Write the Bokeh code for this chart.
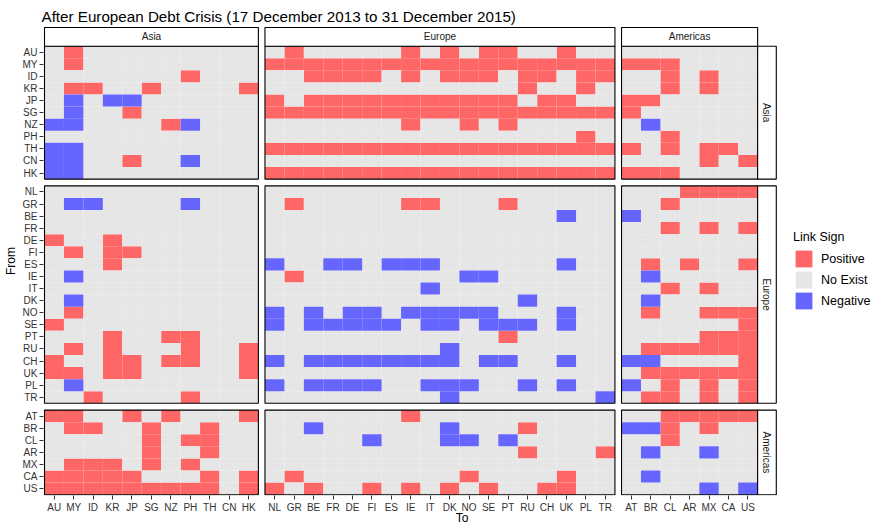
import math
from bokeh.plotting import figure
from bokeh.models import Range1d, FixedTicker, Legend, LegendItem, ColumnDataSource
from bokeh.embed import file_html
from bokeh.resources import INLINE
from bokeh.core.properties import value

# ---------------- data ----------------
title_text = "After European Debt Crisis (17 December 2013 to 31 December 2015)"
regions = ["Asia", "Europe", "Americas"]
asia = ["AU", "MY", "ID", "KR", "JP", "SG", "NZ", "PH", "TH", "CN", "HK"]
europe = ["NL", "GR", "BE", "FR", "DE", "FI", "ES", "IE", "IT", "DK", "NO", "SE",
          "PT", "RU", "CH", "UK", "PL", "TR"]
americas = ["AT", "BR", "CL", "AR", "MX", "CA", "US"]

# link sign from each "From" country to each "To" country
# P = Positive, N = Negative, . = No Exist ; parts: (to Asia, to Europe, to Americas)
from_asia = [
    (".P.........", ".P.....P.P.PP..P..", "......."),  # AU
    (".P.........", "PPPPPPPPPPPPPPPPPP", "PPP...."),  # MY
    (".......P...", "..PPPP.P.PPP.PP.PP", "..P.P.."),  # ID
    (".PP..P....P", ".............P..P.", "..P.P.."),  # KR
    (".N.NN......", "P.PPPPPPPPPPP.PP..", "PP....."),  # JP
    (".N..P......", "PPPPPPPPPPPPPPPPPP", "P......"),  # SG
    ("NN....PN...", ".......P..P.P.....", ".N....."),  # NZ
    ("...........", "................P.", "..P...."),  # PH
    ("NN.........", "PPPPPPPPPPPPPPPPPP", "P.P.PP."),  # TH
    ("NN..P..N...", "..................", "....P.P"),  # CN
    ("NN.........", "PPPPPPPPPPPPPPPPPP", "PPP...."),  # HK
]
from_europe = [
    ("...........", "..................", "...PPPP"),  # NL
    (".NN....N...", ".P.....PP...P.....", "..P...."),  # GR
    ("...........", "...............N..", "N......"),  # BE
    ("...........", "..................", "..P.P.P"),  # FR
    ("P..P.......", "..................", "......."),  # DE
    (".P.PP......", "..................", "......."),  # FI
    ("...P.......", "N..NN.NNN......N..", ".P.P..P"),  # ES
    (".N.........", ".P........NN......", ".N....."),  # IE
    ("...........", "........N.........", "..P.P.."),  # IT
    (".N.........", ".............N....", ".N....."),  # DK
    (".P.........", "N.N.NN.NNNNN...N..", ".P..PPP"),  # NO
    ("P..........", "N.NNNNN.NN.NNN.N..", "......P"),  # SE
    ("...P..PP...", "............P.....", "....PPP"),  # PT
    (".P.P...P..P", ".........N........", ".PPPPPP"),  # RU
    ("P..PP.PP..P", "N.NNNNNNNN.NN..N..", "NN....P"),  # CH
    ("PP.PP.....P", "..................", ".PPPPPP"),  # UK
    (".N.........", "N.NNNN..NNN..N.N..", "N.P.P.P"),  # PL
    ("..P....P...", ".........N.......N", ".PP.P.P"),  # TR
]
from_americas = [
    ("PP..P.P...P", ".......P..........", "..PPPPP"),  # AT
    (".PP..P..P..", "..N......N...P....", "NNP.P.."),  # BR
    (".....P.PP..", ".....N...NN.N.....", "..P...."),  # CL
    (".....P..P..", ".............P...P", ".N..N.."),  # AR
    (".PPP.P.P...", "..................", "......."),  # MX
    ("PPPPP...P.P", ".P........P....P..", ".N....."),  # CA
    ("PPPPPPPPP.P", "P.P..P.P.P.P..PP..", "....N.N"),  # US
]
sign_codes = ["P", ".", "N"]
sign_labels = ["Positive", "No Exist", "Negative"]
sign_colors = ["#FF6666", "#E6E6E6", "#6666FF"]

# ---------------- layout (pixels) ----------------
CW, RH = 19.49, 12.08      # cell width / height
GX, GY = 6.6, 6.8          # gaps between panels
STRIP = 18.7               # strip thickness
FW, FH = 839, 469          # frame size (frame also hosts the legend)
FONT = "Liberation Sans"

countries = dict(zip(regions, [asia, europe, americas]))
from_rows = dict(zip(regions, [from_asia, from_europe, from_americas]))

gx, gy = GX / CW, GY / RH
sx, sy = STRIP / CW, STRIP / RH
xoff, yoff = {}, {}
cx, cy = 0.0, sy
for r in regions:
    xoff[r] = cx
    yoff[r] = cy
    cx += len(countries[r]) + gx
    cy += len(countries[r]) + gy
x_panels_end = xoff["Americas"] + len(americas)
y_panels_end = yoff["Americas"] + len(americas)

p = figure(width=885, height=531, output_backend="svg", toolbar_location=None,
           x_range=Range1d(-1 / CW, (FW - 1) / CW),
           y_range=Range1d((FH - 1) / RH, -1 / RH),
           min_border_left=41, min_border_right=885 - 41 - FW,
           min_border_top=26, min_border_bottom=531 - 26 - FH)
p.outline_line_color = None
p.xgrid.visible = False
p.ygrid.visible = False
p.background_fill_color = "white"

# title
p.title.text = title_text
p.title.text_font = FONT
p.title.text_font_size = "15.2px"
p.title.text_font_style = "normal"
p.title.text_color = "black"
p.title.vertical_align = "top"
p.title.standoff = 0
p.title.offset = -2

# ---------------- cells ----------------
cells = {c: dict(x=[], y=[], frm=[], to=[]) for c in sign_codes}
for fr in regions:
    for j, row in enumerate(from_rows[fr]):
        for tr, part in zip(regions, row):
            for i, ch in enumerate(part):
                d = cells[ch]
                d["x"].append(xoff[tr] + i + 0.5)
                d["y"].append(yoff[fr] + j + 0.5)
                d["frm"].append(countries[fr][j])
                d["to"].append(countries[tr][i])

renderers = []
swatches = []
for code, col in zip(sign_codes, sign_colors):
    src = ColumnDataSource(cells[code])
    r = p.rect(x="x", y="y", width=1, height=1, source=src,
               fill_color=col, line_color=None)
    renderers.append(r)
    # full-size legend swatch (no data drawn)
    sw = p.line(x=[], y=[], line_color=col, line_width=21, line_cap="butt")
    swatches.append(sw)

# ---------------- panel borders and strips ----------------
for fr in regions:
    for tr in regions:
        p.quad(left=xoff[tr], right=xoff[tr] + len(countries[tr]),
               top=yoff[fr], bottom=yoff[fr] + len(countries[fr]),
               fill_alpha=0, line_color="black", line_width=1.1)

for r in regions:
    n = len(countries[r])
    p.quad(left=xoff[r], right=xoff[r] + n, top=0, bottom=sy,
           fill_color="white", line_color="black", line_width=1.1)
    p.text(x=[xoff[r] + n / 2], y=[sy / 2], text=[r], text_align="center",
           text_baseline="middle", text_font=value(FONT),
           text_font_size="10px", text_color="#1A1A1A")
    p.quad(left=x_panels_end, right=x_panels_end + sx, top=yoff[r], bottom=yoff[r] + n,
           fill_color="white", line_color="black", line_width=1.1)
    p.text(x=[x_panels_end + sx / 2], y=[yoff[r] + n / 2], text=[r], angle=-math.pi / 2,
           text_align="center", text_baseline="middle", text_font=value(FONT),
           text_font_size="10px", text_color="#1A1A1A")

# ---------------- axes ----------------
xticks, xlabels = [], {}
yticks, ylabels = [], {}
for r in regions:
    for i, c in enumerate(countries[r]):
        t = xoff[r] + i + 0.5
        xticks.append(t)
        xlabels[t] = c
        t = yoff[r] + i + 0.5
        yticks.append(t)
        ylabels[t] = c

xax = p.xaxis[0]
yax = p.yaxis[0]
for ax, ticks, labels in [(xax, xticks, xlabels), (yax, yticks, ylabels)]:
    ax.ticker = FixedTicker(ticks=ticks)
    ax.major_label_overrides = labels
    ax.axis_line_color = None
    ax.major_tick_line_color = "#333333"
    ax.major_tick_out = 4
    ax.major_tick_in = 0
    ax.minor_tick_line_color = None
    ax.major_label_text_font = FONT
    ax.major_label_text_font_size = "10px"
    ax.major_label_text_color = "#333333"
    ax.major_label_standoff = 2
    ax.axis_label_text_font = FONT
    ax.axis_label_text_font_size = "12px"
    ax.axis_label_text_font_style = "normal"
    ax.axis_label_text_color = "black"

xax.bounds = (0, x_panels_end)
yax.bounds = (sy, y_panels_end)
xax.axis_label = "To"
xax.axis_label_standoff = -5
yax.axis_label = "From"
yax.axis_label_standoff = 2

# ---------------- legend ----------------
legend = Legend(items=[LegendItem(label=l, renderers=[r, s])
                       for l, r, s in zip(sign_labels, renderers, swatches)],
                location=(750, 184), title="Link Sign",
                title_text_font=FONT, title_text_font_size="12.5px", title_text_font_style="normal",
                title_text_color="black", title_standoff=4,
                label_text_font=FONT, label_text_font_size="12.5px", label_text_color="black",
                glyph_width=21, glyph_height=21, label_height=21, spacing=0, label_standoff=7,
                padding=5, margin=0, border_line_color=None, background_fill_alpha=0)
p.add_layout(legend, "center")

open("out.html", "w").write(file_html(p, INLINE))
